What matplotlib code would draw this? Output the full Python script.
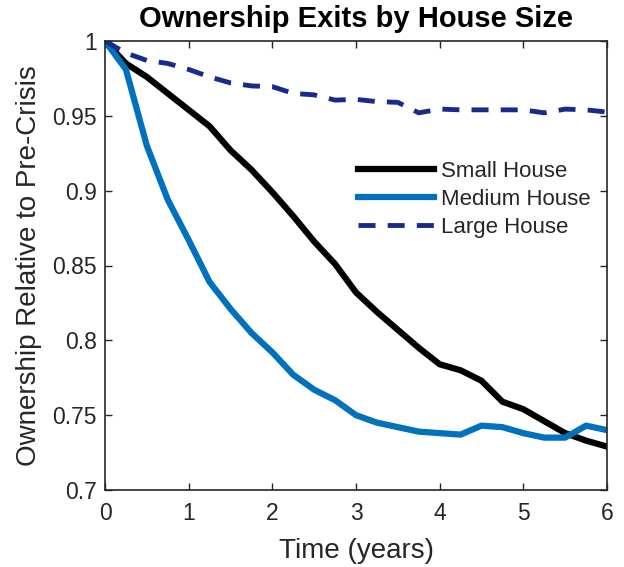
import matplotlib
matplotlib.use("Agg")
import matplotlib.pyplot as plt
import numpy as np

plt.rcParams['font.family'] = ['Liberation Sans', 'DejaVu Sans']

time_years = [0, 0.25, 0.5, 0.75, 1.0, 1.25, 1.5, 1.75, 2.0, 2.25, 2.5, 2.75, 3.0,
              3.25, 3.5, 3.75, 4.0, 4.25, 4.5, 4.75, 5.0, 5.25, 5.5, 5.75, 6.0]
small_house = [1.0, 0.985, 0.976, 0.965, 0.954, 0.943, 0.927, 0.914, 0.899, 0.883,
               0.866, 0.851, 0.832, 0.819, 0.807, 0.795, 0.784, 0.780, 0.773, 0.759,
               0.754, 0.746, 0.738, 0.733, 0.729]
medium_house = [1.0, 0.981, 0.930, 0.894, 0.867, 0.839, 0.821, 0.805, 0.792, 0.777,
                0.767, 0.760, 0.750, 0.745, 0.742, 0.739, 0.738, 0.737, 0.743, 0.742,
                0.738, 0.735, 0.735, 0.743, 0.740]
large_house = [1.0, 0.992, 0.987, 0.985, 0.981, 0.976, 0.972, 0.970, 0.9695, 0.965,
               0.964, 0.9605, 0.961, 0.9595, 0.959, 0.952, 0.9545, 0.954, 0.954, 0.954,
               0.954, 0.952, 0.9545, 0.954, 0.9525]

x_ticks = [0, 1, 2, 3, 4, 5, 6]
y_ticks = [0.7, 0.75, 0.8, 0.85, 0.9, 0.95, 1.0]
y_ticklabels = ['0.7', '0.75', '0.8', '0.85', '0.9', '0.95', '1']

fig = plt.figure(figsize=(6.24, 5.67), dpi=100)
ax = fig.add_axes([105/624, 1-490/567, (607-105)/624, (490-41)/567])

text_col = '#262626'
ax.plot(time_years, small_house, color='black', lw=4.5, label='Small House')
ax.plot(time_years, medium_house, color='#0072BD', lw=4.5, label='Medium House')
ax.plot(time_years, large_house, color='#172B8E', lw=3.5, ls=(0, (3.5, 2.5)), label='Large House')

ax.set_xlim(0, 6)
ax.set_ylim(0.7, 1.0)
ax.set_xticks(x_ticks)
ax.set_yticks(y_ticks)
ax.set_yticklabels(y_ticklabels)
ax.tick_params(direction='in', top=True, right=True, length=5, width=1,
               colors=text_col, labelsize=16.5)
ax.tick_params(axis='y', pad=6)
ax.tick_params(axis='x', pad=9)
for s in ax.spines.values():
    s.set_color(text_col)
    s.set_linewidth(1.2)

ax.set_xlabel('Time (years)', fontsize=20, color=text_col, labelpad=9)
ax.set_ylabel('Ownership Relative to Pre-Crisis', fontsize=20, color=text_col, labelpad=7)
ax.set_title('Ownership Exits by House Size', fontsize=21, fontweight='bold', color='black', pad=10)

leg = ax.legend(loc='upper left', bbox_to_anchor=(0.487, 0.752), frameon=False, fontsize=16,
                handlelength=3.4, handletextpad=0.3, labelspacing=0.3, borderaxespad=0)
for t in leg.get_texts():
    t.set_color(text_col)

fig.savefig('out.png', dpi=100)
